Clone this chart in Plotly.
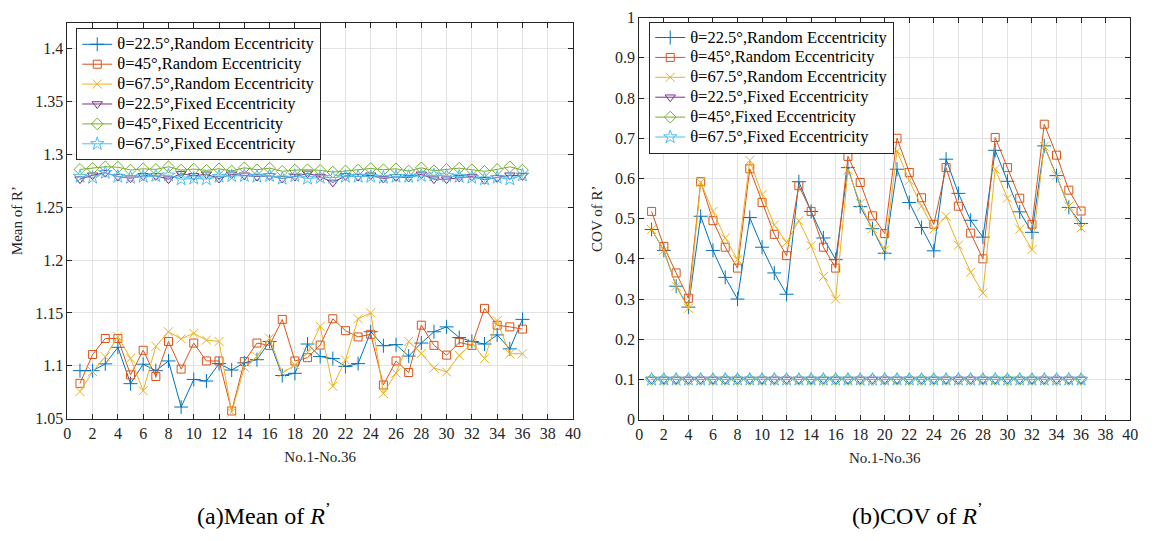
import plotly.graph_objects as go

# Sample index No.1 - No.36
samples = list(range(1, 37))

# Mean of R' (left panel)
mean_r225 = [1.0954, 1.0954, 1.1018, 1.1175, 1.0831, 1.1015, 1.0954, 1.1046, 1.0610, 1.0871, 1.0856, 1.1021,
             1.0960, 1.1028, 1.1058, 1.1230, 1.0908, 1.0929, 1.1206, 1.1088, 1.1068, 1.0994, 1.1021, 1.1322,
             1.1190, 1.1200, 1.1092, 1.1215, 1.1322, 1.1368, 1.1267, 1.1230, 1.1206, 1.1292, 1.1160, 1.1439]
mean_r45 = [1.0834, 1.1107, 1.1258, 1.1258, 1.0914, 1.1147, 1.0899, 1.1230, 1.0969, 1.1215, 1.1046, 1.1046,
            1.0573, 1.1040, 1.1215, 1.1193, 1.1439, 1.1046, 1.1077, 1.1196, 1.1445, 1.1332, 1.1273, 1.1298,
            1.0819, 1.1046, 1.0936, 1.1384, 1.1193, 1.1101, 1.1221, 1.1193, 1.1543, 1.1384, 1.1368, 1.1347]
mean_r675 = [1.0757, 1.0945, 1.1086, 1.1276, 1.1071, 1.0764, 1.1184, 1.1322, 1.1255, 1.1307, 1.1243, 1.1230,
             1.0561, 1.0985, 1.1089, 1.1261, 1.0929, 1.1009, 1.1123, 1.1373, 1.0807, 1.1055, 1.1445, 1.1500,
             1.0739, 1.0932, 1.1230, 1.1117, 1.0979, 1.0942, 1.1098, 1.1215, 1.1068, 1.1427, 1.1114, 1.1114]
mean_f225 = [1.2765, 1.2802, 1.2826, 1.2789, 1.2774, 1.2796, 1.2796, 1.2765, 1.2817, 1.2796, 1.2811, 1.2771,
             1.2811, 1.2802, 1.2789, 1.2796, 1.2771, 1.2789, 1.2820, 1.2789, 1.2734, 1.2796, 1.2789, 1.2802,
             1.2771, 1.2786, 1.2780, 1.2811, 1.2765, 1.2765, 1.2780, 1.2789, 1.2759, 1.2777, 1.2802, 1.2796]
mean_f45 = [1.2857, 1.2866, 1.2882, 1.2878, 1.2851, 1.2863, 1.2857, 1.2882, 1.2851, 1.2860, 1.2848, 1.2863,
            1.2842, 1.2872, 1.2854, 1.2869, 1.2839, 1.2851, 1.2854, 1.2848, 1.2832, 1.2842, 1.2851, 1.2866,
            1.2854, 1.2863, 1.2842, 1.2872, 1.2845, 1.2857, 1.2869, 1.2854, 1.2839, 1.2857, 1.2882, 1.2851]
mean_f675 = [1.2789, 1.2780, 1.2826, 1.2789, 1.2780, 1.2789, 1.2796, 1.2802, 1.2765, 1.2771, 1.2765, 1.2789,
             1.2796, 1.2796, 1.2789, 1.2796, 1.2771, 1.2796, 1.2771, 1.2780, 1.2780, 1.2789, 1.2789, 1.2789,
             1.2780, 1.2789, 1.2789, 1.2796, 1.2802, 1.2796, 1.2789, 1.2780, 1.2765, 1.2780, 1.2765, 1.2802]

# COV of R' (right panel)
cov_r225 = [0.473, 0.421, 0.332, 0.280, 0.506, 0.421, 0.354, 0.300, 0.503, 0.429, 0.365, 0.312,
            0.592, 0.518, 0.452, 0.398, 0.627, 0.530, 0.475, 0.414, 0.623, 0.540, 0.478, 0.420,
            0.648, 0.563, 0.496, 0.454, 0.670, 0.593, 0.517, 0.466, 0.681, 0.607, 0.528, 0.488]
cov_r45 = [0.518, 0.431, 0.365, 0.302, 0.592, 0.495, 0.429, 0.377, 0.624, 0.540, 0.461, 0.408,
           0.582, 0.518, 0.429, 0.377, 0.655, 0.590, 0.507, 0.463, 0.700, 0.615, 0.552, 0.486,
           0.627, 0.531, 0.464, 0.400, 0.702, 0.627, 0.551, 0.486, 0.735, 0.658, 0.571, 0.519]
cov_r675 = [0.473, 0.421, 0.332, 0.277, 0.590, 0.518, 0.452, 0.398, 0.645, 0.560, 0.484, 0.441,
            0.495, 0.433, 0.356, 0.300, 0.621, 0.538, 0.475, 0.422, 0.668, 0.595, 0.531, 0.474,
            0.506, 0.434, 0.367, 0.315, 0.623, 0.551, 0.474, 0.423, 0.680, 0.607, 0.531, 0.477]
cov_f225 = [0.1] * 36
cov_f45 = [0.1] * 36
cov_f675 = [0.1] * 36

names = ["θ=22.5°,Random Eccentricity", "θ=45°,Random Eccentricity", "θ=67.5°,Random Eccentricity",
         "θ=22.5°,Fixed Eccentricity", "θ=45°,Fixed Eccentricity", "θ=67.5°,Fixed Eccentricity"]
colors = ["#0072BD", "#D95319", "#EDB120", "#7E2F8E", "#77AC30", "#4DBEEE"]
symbols = ["cross-thin", "square-open", "x-thin", "triangle-down-open", "diamond-open", "star-open"]
sizes = [10, 8, 9, 9, 9, 10]

FONT = "'Liberation Serif', 'Times New Roman', Times, serif"
W, H = 1154, 541

# Legend rows are kept compact (small base size) while the label glyphs stay large
LEGEND_LABEL = "<span style='font-size:16.5px'>{}</span>"

fig = go.Figure()

left = [mean_r225, mean_r45, mean_r675, mean_f225, mean_f45, mean_f675]
right = [cov_r225, cov_r45, cov_r675, cov_f225, cov_f45, cov_f675]

for panel, (series, xa, ya, lg) in enumerate([(left, "x", "y", "legend"), (right, "x2", "y2", "legend2")]):
    for i, ys in enumerate(series):
        fig.add_trace(go.Scatter(
            x=samples, y=ys, name=LEGEND_LABEL.format(names[i]), mode="lines+markers",
            line=dict(color=colors[i], width=1),
            marker=dict(symbol=symbols[i], size=sizes[i], color=colors[i],
                        line=dict(color=colors[i], width=1)),
            xaxis=xa, yaxis=ya, legend=lg))

axis_common = dict(
    showline=True, mirror="ticks", linecolor="#262626", linewidth=1,
    ticks="inside", ticklen=5, tickcolor="#262626",
    showgrid=True, gridcolor="#e3e3e3", gridwidth=1, zeroline=False,
    tickfont=dict(family=FONT, size=16, color="#262626"),
)

xticks = list(range(0, 41, 2))
legend_common = dict(xanchor="left", yanchor="top",
                     bgcolor="white", bordercolor="#262626", borderwidth=1,
                     font=dict(family=FONT, size=13, color="#000000"),
                     tracegroupgap=0, itemwidth=30)

fig.update_layout(
    width=W, height=H, margin=dict(l=0, r=0, t=0, b=0),
    paper_bgcolor="white", plot_bgcolor="white",
    font=dict(family=FONT, color="#262626"),
    xaxis=dict(domain=[64 / W, 575 / W], range=[0, 40], tickvals=xticks, anchor="y",
               title=dict(text="No.1-No.36", font=dict(family=FONT, size=15), standoff=10),
               **axis_common),
    yaxis=dict(domain=[1 - 424 / H, 1 - 15 / H], range=[1.05, 1.4246],
               tickvals=[1.05, 1.1, 1.15, 1.2, 1.25, 1.3, 1.35, 1.4],
               ticktext=["1.05", "1.1", "1.15", "1.2", "1.25", "1.3", "1.35", "1.4"],
               anchor="x",
               title=dict(text="Mean of R’", font=dict(family=FONT, size=15), standoff=8),
               **axis_common),
    xaxis2=dict(domain=[642 / W, 1138 / W], range=[0, 40], tickvals=xticks, anchor="y2",
                title=dict(text="No.1-No.36", font=dict(family=FONT, size=15), standoff=10),
                **axis_common),
    yaxis2=dict(domain=[1 - 425 / H, 1 - 10 / H], range=[0, 1],
                tickvals=[i / 10 for i in range(11)],
                ticktext=["0", "0.1", "0.2", "0.3", "0.4", "0.5", "0.6", "0.7", "0.8", "0.9", "1"],
                anchor="x2",
                title=dict(text="COV of R’", font=dict(family=FONT, size=15), standoff=8),
                **axis_common),
    legend=dict(x=73 / W, y=1 - 21 / H, **legend_common),
    legend2=dict(x=652 / W, y=1 - 14 / H, **legend_common),
    annotations=[
        dict(text="(a)Mean of <i>R</i><sup>’</sup>", x=263 / W, y=1 - 522 / H,
             xref="paper", yref="paper", xanchor="center", yanchor="middle", showarrow=False,
             font=dict(family=FONT, size=24, color="#000000")),
        dict(text="(b)COV of <i>R</i><sup>’</sup>", x=923 / W, y=1 - 522 / H,
             xref="paper", yref="paper", xanchor="center", yanchor="middle", showarrow=False,
             font=dict(family=FONT, size=24, color="#000000")),
    ],
)

fig.write_html("out.html")
